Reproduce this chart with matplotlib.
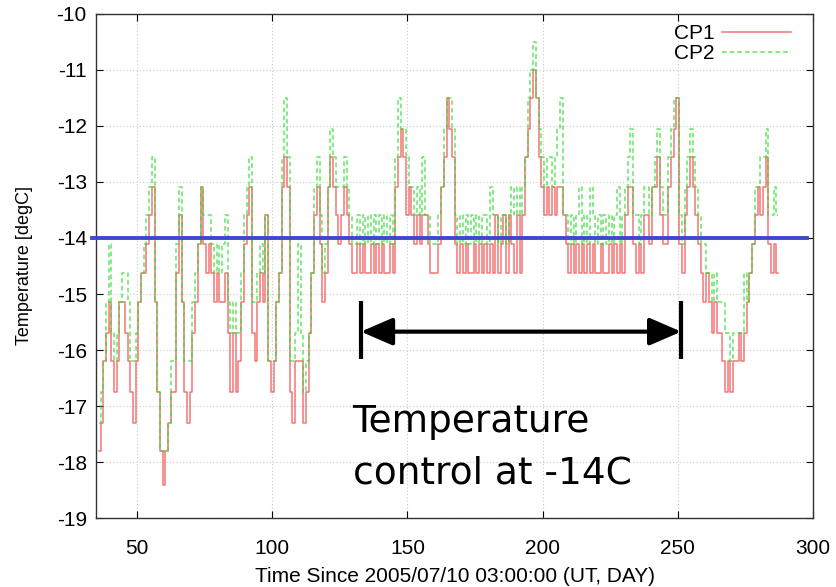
import numpy as np
import matplotlib
matplotlib.use("Agg")
import matplotlib.pyplot as plt

plt.rcParams['font.family'] = ['Liberation Sans', 'DejaVu Sans']
plt.rcParams['axes.unicode_minus'] = False

# daily samples, day 36 .. 287
first_day = 36

cp1 = [
    -17.8, -17.3, -16.2, -15.7, -15.15, -16.2, -16.75, -16.2, -15.15, -15.15,   # 36
    -15.7, -16.2, -16.75, -17.3, -16.2, -15.15, -14.62, -14.62, -14.1, -13.6,   # 46
    -13.1, -15.15, -16.75, -17.8, -18.4, -17.8, -17.3, -16.75, -16.75, -14.62,  # 56
    -13.6, -15.15, -16.75, -17.3, -16.75, -15.7, -15.15, -14.1, -13.1, -14.1,   # 66
    -14.62, -14.1, -14.62, -15.15, -14.62, -15.15, -15.15, -14.62, -15.7, -16.75,  # 76
    -15.7, -16.75, -16.2, -15.15, -14.1, -13.6, -13.1, -15.7, -16.2, -15.15,    # 86
    -14.62, -15.15, -13.6, -16.2, -16.75, -16.2, -15.15, -14.62, -13.1, -12.55,  # 96
    -13.1, -16.75, -17.3, -16.2, -16.2, -16.2, -17.3, -16.75, -15.7, -14.62,    # 106
    -13.6, -13.1, -14.1, -15.15, -14.62, -13.1, -12.55, -13.1, -13.6, -14.1,    # 116
    -13.6, -13.1, -13.6, -14.1, -14.62, -14.62, -14.1, -14.62, -14.1, -14.62,   # 126
    -14.62, -14.1, -14.62, -14.1, -14.62, -14.1, -14.62, -14.62, -14.1, -14.62,  # 136
    -13.1, -12.55, -12.05, -12.55, -13.6, -13.1, -13.6, -14.1, -13.6, -14.1,    # 146
    -13.6, -13.6, -14.1, -14.62, -14.62, -14.62, -14.1, -13.1, -12.55, -11.5,   # 156
    -12.05, -12.55, -14.1, -14.62, -14.1, -14.62, -14.1, -14.62, -14.62, -14.1,  # 166
    -14.62, -14.1, -14.62, -14.1, -14.62, -14.1, -14.62, -13.6, -14.62, -14.1,  # 176
    -13.6, -14.62, -13.6, -14.1, -14.62, -13.6, -14.62, -13.6, -12.55, -12.05,  # 186
    -11.5, -11.0, -11.5, -12.55, -13.1, -13.6, -13.1, -13.6, -13.1, -13.6,      # 196
    -13.1, -13.1, -13.6, -14.1, -14.62, -14.1, -14.62, -14.1, -14.62, -14.1,    # 206
    -14.62, -14.1, -14.62, -14.1, -14.62, -14.62, -14.1, -14.62, -14.62, -14.1,  # 216
    -14.62, -14.1, -14.62, -14.1, -14.62, -13.6, -13.1, -13.1, -14.1, -14.62,   # 226
    -14.1, -14.62, -13.6, -13.6, -14.1, -13.1, -13.1, -12.55, -13.6, -14.1,     # 236
    -14.1, -13.1, -12.55, -12.05, -11.5, -14.1, -14.62, -13.6, -13.1, -12.55,   # 246
    -13.1, -13.6, -14.1, -14.62, -15.15, -14.62, -15.15, -15.7, -15.15, -15.7,  # 256
    -15.7, -16.2, -16.75, -16.2, -16.75, -16.2, -16.2, -15.7, -16.2, -15.7,     # 266
    -15.15, -14.62, -14.1, -13.6, -13.1, -13.6, -13.1, -12.55, -14.1, -14.62,   # 276
    -14.1, -14.62,                                                              # 286
]

cp2 = [
    -17.3, -16.75, -16.2, -15.15, -14.1, -15.7, -16.2, -15.7, -15.15, -14.62,   # 36
    -14.62, -15.15, -16.2, -16.2, -15.7, -15.15, -14.62, -14.1, -13.6, -13.1,   # 46
    -12.55, -15.15, -16.75, -17.8, -17.8, -17.8, -17.3, -16.2, -16.2, -14.1,    # 56
    -13.1, -15.15, -16.2, -16.2, -16.2, -15.15, -14.62, -14.1, -13.1, -13.6,    # 66
    -13.6, -13.6, -14.1, -14.62, -14.1, -14.62, -14.1, -13.6, -15.15, -15.7,    # 76
    -15.15, -15.7, -15.7, -14.62, -13.6, -13.1, -12.55, -15.15, -15.15, -14.62,  # 86
    -14.1, -14.62, -13.6, -16.2, -16.2, -16.2, -15.15, -14.62, -12.55, -11.5,   # 96
    -12.55, -16.2, -16.2, -15.7, -14.1, -15.7, -16.75, -16.2, -15.7, -14.62,    # 106
    -13.1, -12.55, -13.6, -14.62, -14.1, -13.1, -12.05, -12.55, -13.1, -13.1,   # 116
    -13.1, -12.55, -13.1, -13.6, -14.1, -14.1, -13.6, -14.1, -13.6, -14.1,      # 126
    -13.6, -14.1, -13.6, -14.1, -13.6, -14.1, -13.6, -14.1, -13.6, -14.1,       # 136
    -12.55, -11.5, -12.05, -12.05, -12.55, -13.1, -13.1, -13.6, -13.1, -13.6,   # 146
    -12.55, -13.6, -13.6, -14.1, -14.1, -14.1, -13.6, -13.1, -12.05, -11.5,     # 156
    -11.5, -12.05, -13.6, -14.1, -13.6, -14.1, -13.6, -14.1, -13.6, -14.1,      # 166
    -13.6, -14.1, -13.6, -13.6, -14.1, -13.1, -13.6, -13.6, -14.1, -13.6,       # 176
    -13.6, -14.1, -13.6, -13.1, -13.6, -13.1, -13.6, -13.1, -12.55, -11.5,      # 186
    -11.0, -10.5, -11.5, -12.05, -12.55, -13.1, -12.55, -12.55, -13.1, -12.55,  # 196
    -12.05, -11.5, -13.6, -13.6, -14.1, -13.6, -14.1, -13.6, -13.1, -14.1,      # 206
    -13.6, -14.1, -13.1, -13.6, -14.1, -13.6, -14.1, -13.6, -14.1, -13.6,       # 216
    -14.1, -13.6, -13.1, -14.1, -13.6, -13.1, -12.55, -12.05, -13.6, -13.6,     # 226
    -14.1, -13.6, -13.1, -13.1, -13.6, -13.1, -12.55, -12.05, -13.1, -13.6,     # 236
    -13.6, -12.55, -12.05, -11.5, -11.5, -13.6, -14.1, -13.1, -12.55, -12.05,   # 246
    -12.55, -13.1, -13.6, -14.1, -14.1, -14.62, -14.62, -15.15, -14.62, -15.15,  # 256
    -15.15, -15.15, -15.7, -15.7, -16.2, -15.7, -15.7, -15.7, -15.7, -14.62,    # 266
    -15.15, -14.62, -14.1, -13.1, -13.1, -12.55, -12.55, -12.05, -13.6, -13.6,  # 276
    -13.1, -13.6,                                                               # 286
]

days = np.arange(first_day, first_day + len(cp1))

# annotation: control level and the controlled period
control_temp = -14.0
period_start = 132.8
period_end = 251.3
arrow_y = -15.67
bar_lo, bar_hi = -16.16, -15.12
note = "Temperature\ncontrol at -14C"

fig = plt.figure(figsize=(8.36, 5.87), dpi=100)
ax = fig.add_axes([0.1154, 0.1167, 0.857, 0.8603])

ax.plot(days, cp1, color='#f04848', lw=1.1, alpha=0.75, drawstyle='steps-mid',
        label='CP1')
ax.plot(days, cp2, color='#30dd30', lw=1.1, alpha=0.75, dashes=(3, 2),
        drawstyle='steps-mid', label='CP2')

ax.set_xlim(35, 300)
ax.set_ylim(-19, -10)
ax.set_xticks([50, 100, 150, 200, 250, 300])
ax.set_yticks(np.arange(-19, -9))
ax.grid(True, color='#c8c8c8', linestyle=(0, (1, 2)), lw=0.8)
ax.tick_params(direction='in', top=True, right=True, length=5, width=0.8,
               labelsize=15)
ax.tick_params(axis='x', pad=15)
ax.tick_params(axis='y', pad=7)
for s in ax.spines.values():
    s.set_linewidth(1.0)
    s.set_color('#333333')

ax.set_xlabel('Time Since 2005/07/10 03:00:00 (UT, DAY)', fontsize=15, labelpad=6)
ax.set_ylabel('Temperature [degC]', fontsize=13, labelpad=17)

leg = ax.legend(loc='upper right', bbox_to_anchor=(0.978, 0.991), frameon=False,
                markerfirst=False, fontsize=15, handlelength=3.3,
                handletextpad=0.35, labelspacing=0.05, borderaxespad=0.1,
                borderpad=0.2)

# blue control line
ax.axhline(control_temp, xmin=-0.006, xmax=0.992, color='#3f48cc', lw=2.8,
           clip_on=False, zorder=5)

# double arrow with end bars
ax.annotate('', xy=(period_end, arrow_y), xytext=(period_start, arrow_y),
            arrowprops=dict(arrowstyle='<|-|>,head_length=0.97,head_width=0.42',
                            mutation_scale=20, color='black', lw=3,
                            shrinkA=0, shrinkB=0), zorder=6)
ax.vlines([period_start, period_end], bar_lo, bar_hi, color='black', lw=3, zorder=6)

ax.text(129.7, -18.37, note, fontsize=27, family='DejaVu Sans',
        va='baseline', ha='left', linespacing=1.55, zorder=6)

fig.savefig('out.png', dpi=100)
